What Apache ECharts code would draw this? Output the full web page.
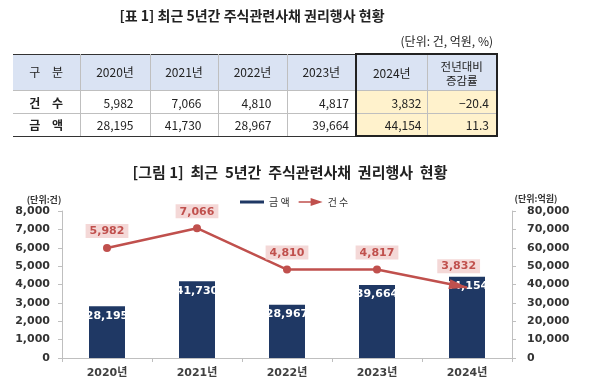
<!DOCTYPE html>
<html><head><meta charset="utf-8">
<script src="https://cdn.jsdelivr.net/npm/echarts@6/dist/echarts.min.js"></script>
<style>
html,body{margin:0;padding:0;background:#fff;}
#wrap{position:relative;width:600px;height:388px;overflow:hidden;}
#chart{position:absolute;left:0;top:0;width:600px;height:388px;}
.kr{font-family:"Noto Sans CJK KR","Noto Sans",sans-serif;color:#222;}
#ttitle{position:absolute;left:0;top:5px;width:504px;text-align:center;font-size:14px;font-weight:bold;line-height:20px;}
#unit{position:absolute;right:107px;top:32px;font-size:12px;line-height:18px;}
#tbl{position:absolute;left:13px;top:53px;border-collapse:collapse;table-layout:fixed;font-size:12px;}
#tbl td{padding:0;border:1px solid #bfbfbf;white-space:nowrap;overflow:visible;}
#tbl tr td:first-child{border-left:none;}
#tbl tr.h td{background:#dae3f3;text-align:center;height:35px;border-top:1.5px solid #333;line-height:14px;}
#tbl tr.r1 td{height:22px;}
#tbl tr.r2 td{height:21px;border-bottom:1.5px solid #333;}
#tbl td.lab{text-align:center;font-weight:bold;word-spacing:9px;}
#tbl td.num{text-align:right;}
#tbl td.y{background:#fff2cc;}
#tbl td.bl{border-left:2px solid #222;}
#tbl td.br{border-right:2px solid #222;}
#tbl tr.h td.bx{border-top:2px solid #222;}
#tbl tr.r2 td.bx{border-bottom:2px solid #222;}
</style>
</head><body>
<div id="wrap">
  <div id="chart"></div>
  <div id="ttitle" class="kr">[표 1] 최근 5년간 주식관련사채 권리행사 현황</div>
  <div id="unit" class="kr">(단위: 건, 억원, %)</div>
  <table id="tbl" class="kr"></table>
</div>
<script>
// ---- data ----
const years = ['2020년', '2021년', '2022년', '2023년', '2024년'];
const counts = [5982, 7066, 4810, 4817, 3832];
const amounts = [28195, 41730, 28967, 39664, 44154];
const changes = [-20.4, 11.3];
const rowLabels = ['건 수', '금 액'];
const headLabel = '구 분';
const changeHead = '전년대비<br>증감률';
const countAxis = {min: 0, max: 8000, interval: 1000};
const amountAxis = {min: 0, max: 80000, interval: 10000};

const fmt = v => Number(v).toLocaleString('en-US');

// ---- table ----
(function buildTable() {
  const widths = [67, 70, 68, 69, 69, 71, 70];
  const padR = [0, 16, 16, 15, 6, 5, 7];
  const t = document.getElementById('tbl');
  let html = '<colgroup>' + widths.map(w => '<col style="width:' + w + 'px">').join('') + '</colgroup>';
  html += '<tr class="h"><td class="lab" style="font-weight:normal">' + headLabel + '</td>';
  years.forEach((y, i) => {
    const cls = i === years.length - 1 ? ' class="bl bx"' : '';
    html += '<td' + cls + '>' + y + '</td>';
  });
  html += '<td class="br bx" style="font-size:11.5px">' + changeHead + '</td></tr>';
  const rows = [counts, amounts];
  rows.forEach((arr, r) => {
    html += '<tr class="r' + (r + 1) + '"><td class="lab">' + rowLabels[r] + '</td>';
    arr.forEach((v, i) => {
      const last = i === arr.length - 1;
      html += '<td class="num' + (last ? ' y bl bx' : '') + '" style="padding-right:' + padR[i + 1] + 'px">' + fmt(v) + '</td>';
    });
    html += '<td class="num y br bx" style="padding-right:' + padR[6] + 'px">' + changes[r].toFixed(1).replace('-', '−') + '</td></tr>';
  });
  t.innerHTML = html;
})();

// ---- chart ----
const NUM = "'DejaVu Sans','Noto Sans CJK KR',sans-serif";
const KR = "'Noto Sans CJK KR','Noto Sans',sans-serif";
const RED = '#c0504d';
const NAVY = '#1f3864';
const AX = '#bfbfbf';

const chart = echarts.init(document.getElementById('chart'), null, {renderer: 'canvas'});

function lineData(rot, off) {
  return counts.map((v, i) => {
    if (i === counts.length - 1) {
      return {value: v, symbol: 'triangle', symbolSize: [10, 19], symbolRotate: rot, symbolOffset: off};
    }
    return {value: v};
  });
}

const option = {
  animation: false,
  textStyle: {fontFamily: KR},
  graphic: [
    {type: 'text', x: 290, y: 172, style: {text: '[그림 1]  최근  5년간  주식관련사채  권리행사  현황', font: 'bold 15px ' + KR, fill: '#222', align: 'center', verticalAlign: 'middle'}},
    {type: 'text', x: 44, y: 200, style: {text: '(단위:건)', font: 'bold 9px ' + KR, fill: '#333', align: 'center', verticalAlign: 'middle'}},
    {type: 'text', x: 536, y: 199, style: {text: '(단위:억원)', font: 'bold 9px ' + KR, fill: '#333', align: 'center', verticalAlign: 'middle'}}
  ],
  legend: {
    left: 235, top: 192,
    itemWidth: 24, itemHeight: 8, itemGap: 9,
    textStyle: {fontFamily: KR, fontSize: 10, color: '#333'},
    data: [
      {name: '금 액', icon: 'path://M0,0L0,8M0,2.5h24v3h-24z', itemStyle: {color: NAVY, borderWidth: 0}},
      {name: '건 수', icon: 'path://M0,0L0,8M0,3.2h14v1.6h-14zM12,0L24,4L12,8z', itemStyle: {color: RED, borderWidth: 0}}
    ]
  },
  grid: {left: 62, right: 88, top: 211, bottom: 30},
  xAxis: {
    type: 'category', data: years,
    axisLine: {lineStyle: {color: AX}},
    axisTick: {show: true, length: 4, lineStyle: {color: AX}},
    axisLabel: {fontFamily: NUM, fontWeight: 'bold', fontSize: 11, color: '#404040', margin: 10}
  },
  yAxis: [
    {
      type: 'value', position: 'left', min: countAxis.min, max: countAxis.max, interval: countAxis.interval,
      axisLine: {show: true, lineStyle: {color: AX}},
      axisTick: {show: true, length: 4, lineStyle: {color: AX}},
      splitLine: {show: false},
      axisLabel: {fontFamily: NUM, fontWeight: 'bold', fontSize: 11, color: '#333', margin: 12, formatter: v => fmt(v)}
    },
    {
      type: 'value', position: 'right', min: amountAxis.min, max: amountAxis.max, interval: amountAxis.interval,
      axisLine: {show: true, lineStyle: {color: AX}},
      axisTick: {show: true, length: 4, lineStyle: {color: AX}},
      splitLine: {show: false},
      axisLabel: {fontFamily: NUM, fontWeight: 'bold', fontSize: 11, color: '#333', margin: 15, formatter: v => fmt(v)}
    }
  ],
  series: [
    {
      name: '금 액', type: 'bar', yAxisIndex: 1, data: amounts, barWidth: 36,
      itemStyle: {color: NAVY},
      label: {show: true, position: 'insideTop', distance: 4, color: '#fff', fontFamily: NUM, fontWeight: 'bold', fontSize: 11, formatter: p => fmt(p.value)}
    },
    {
      name: '건 수', type: 'line', yAxisIndex: 0, data: lineData(0, [0, 0]), z: 5,
      color: RED,
      lineStyle: {color: RED, width: 2.5},
      symbol: 'circle', symbolSize: 8,
      itemStyle: {color: RED, borderWidth: 0},
      label: {show: true, position: 'top', distance: 6, color: RED, backgroundColor: '#f4d8d7', padding: [2, 4, 1, 4],
        fontFamily: NUM, fontWeight: 'bold', fontSize: 11, formatter: p => fmt(p.value)}
    }
  ]
};
chart.setOption(option);

// orient the arrow head along the last segment
const n = counts.length;
const pA = chart.convertToPixel({xAxisIndex: 0, yAxisIndex: 0}, [n - 2, counts[n - 2]]);
const pB = chart.convertToPixel({xAxisIndex: 0, yAxisIndex: 0}, [n - 1, counts[n - 1]]);
const ang = Math.atan2(pB[1] - pA[1], pB[0] - pA[0]);
const rot = -90 - ang * 180 / Math.PI;
const half = 19 / 2 - 1;
chart.setOption({series: [{}, {data: lineData(rot, [-Math.cos(ang) * half, -Math.sin(ang) * half])}]});
</script>
</body></html>
